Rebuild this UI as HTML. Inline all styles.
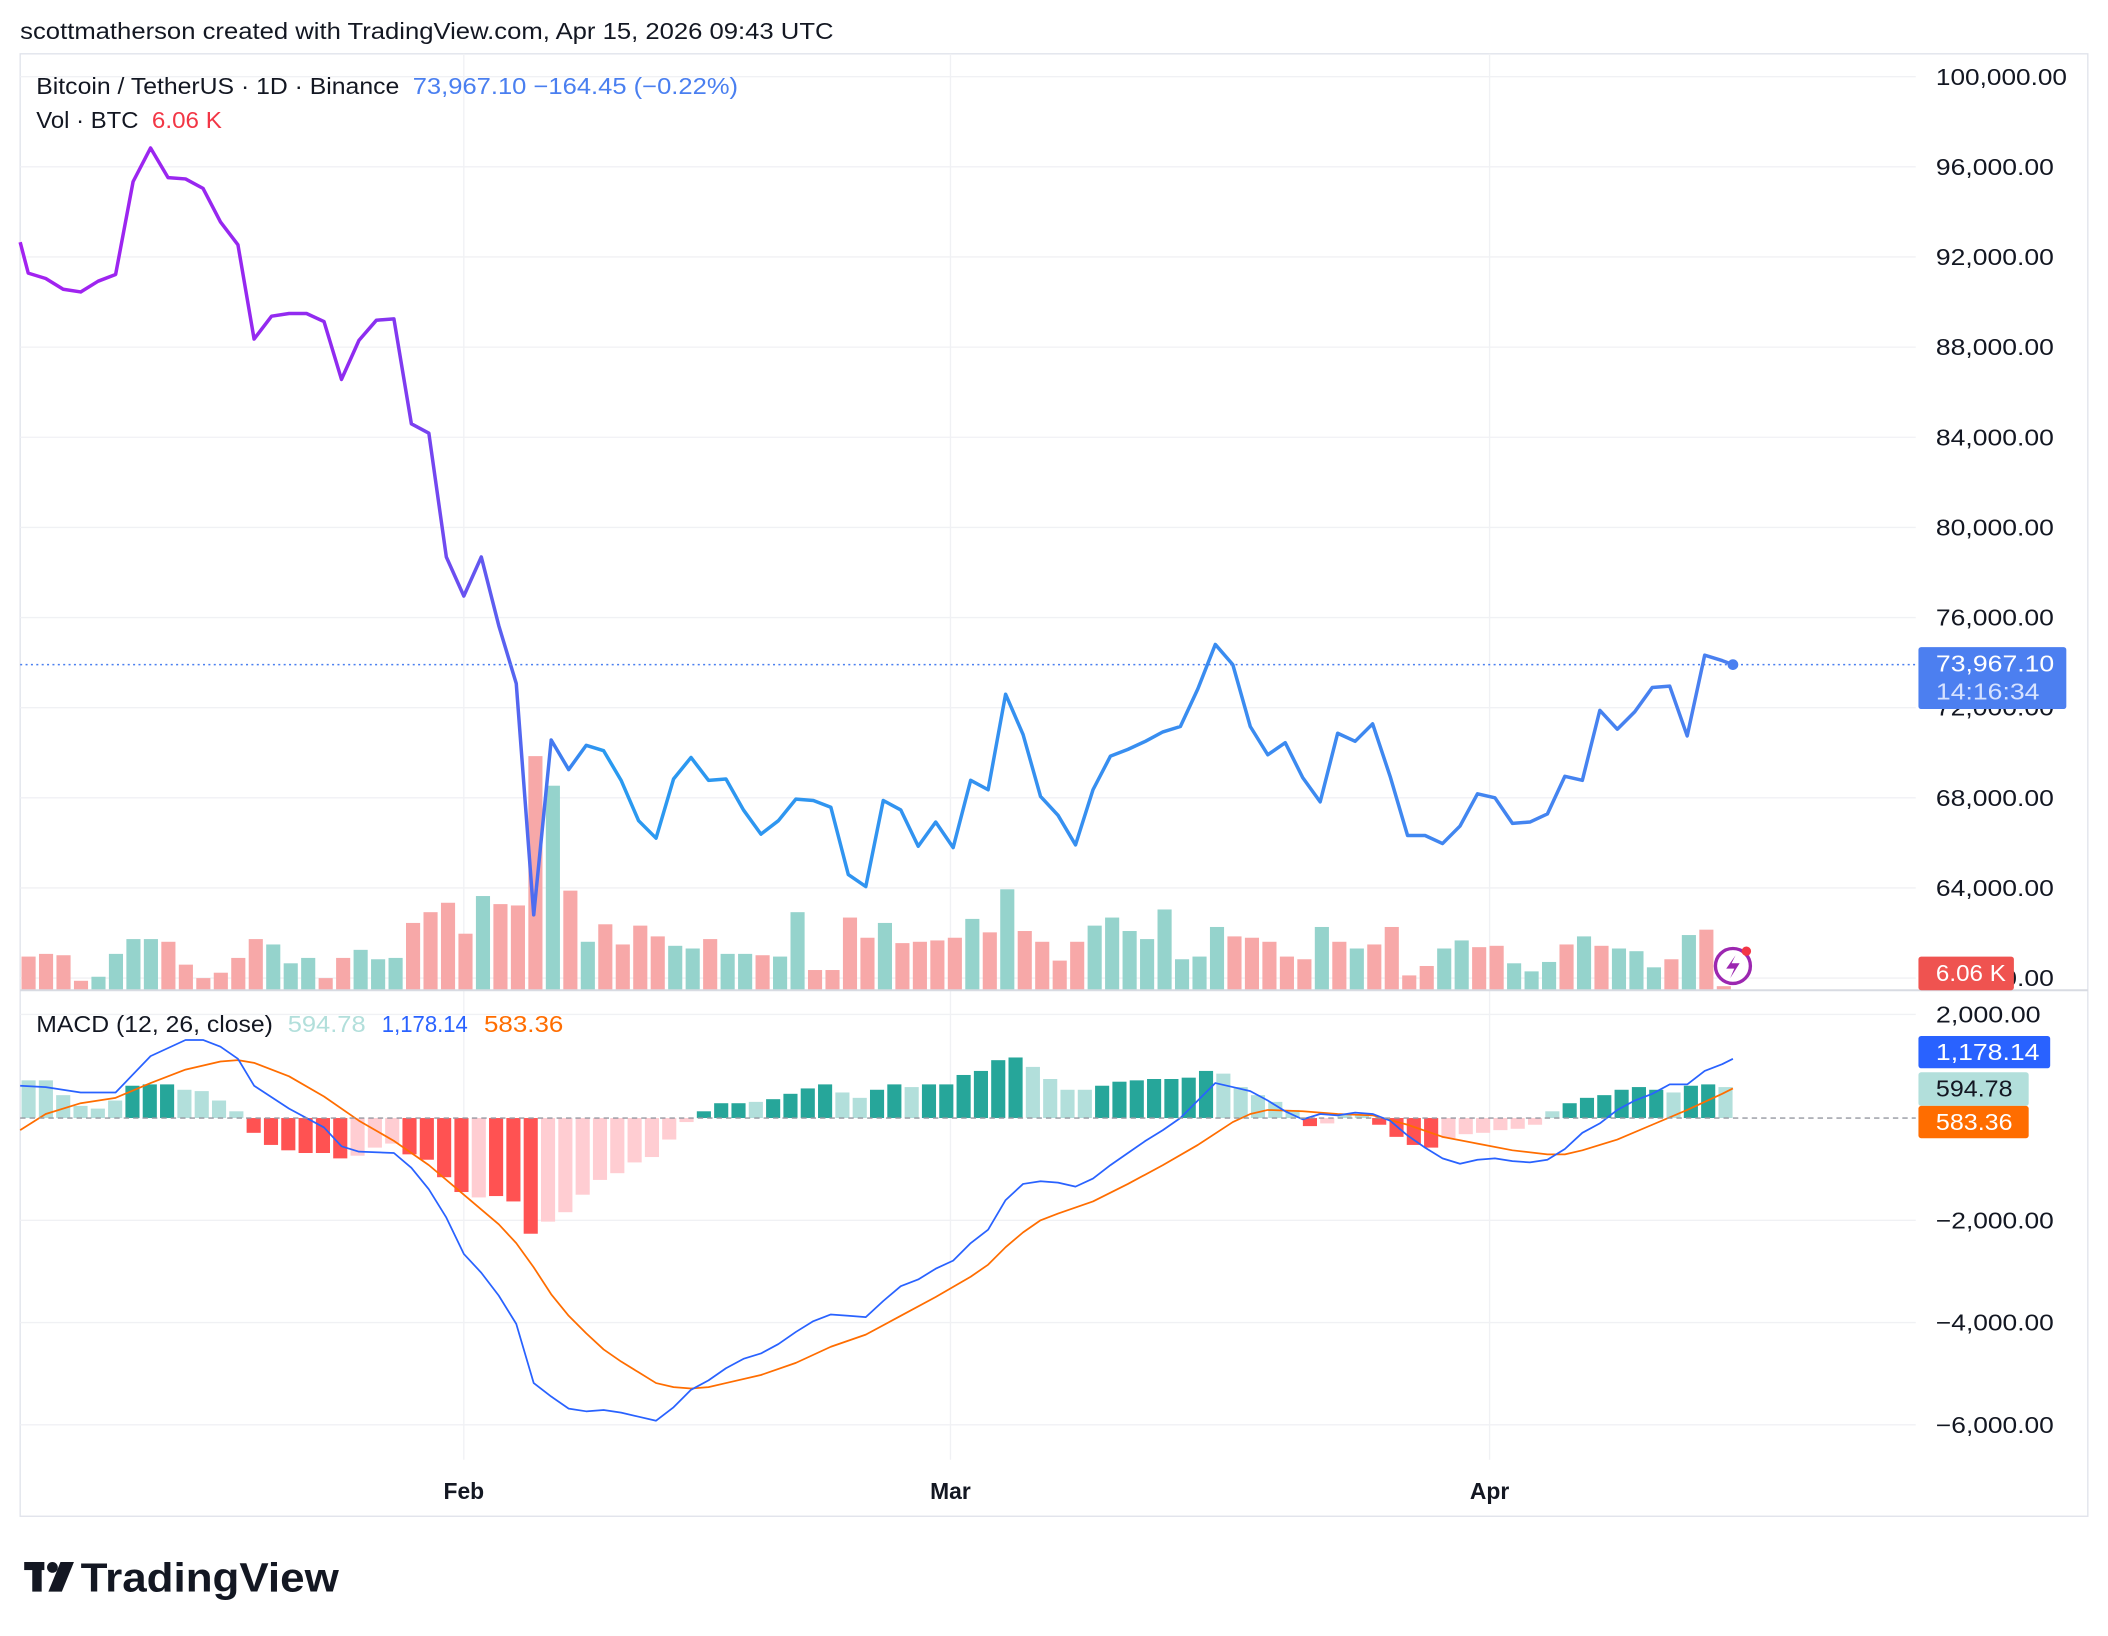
<!DOCTYPE html>
<html><head><meta charset="utf-8"><style>
html,body{margin:0;padding:0;background:#fff;}
svg{display:block;}
text{font-family:"Liberation Sans",sans-serif;}
</style></head><body>
<svg id="s" width="2108" height="1636" viewBox="0 0 1568 1216" preserveAspectRatio="none" xmlns="http://www.w3.org/2000/svg">
<defs>
<linearGradient id="pg" gradientUnits="userSpaceOnUse" x1="15" y1="0" x2="1289" y2="0">
<stop offset="0" stop-color="#a322f0"/>
<stop offset="0.2" stop-color="#8e2cf0"/>
<stop offset="0.3" stop-color="#4e6cf0"/>
<stop offset="0.34" stop-color="#2a9af0"/>
<stop offset="0.7" stop-color="#3a8cf0"/>
<stop offset="1" stop-color="#4a7ff0"/>
</linearGradient>
</defs>
<rect width="1568" height="1216" fill="#fff"/>
<text x="15" y="29" font-size="17" fill="#131722" textLength="605" lengthAdjust="spacingAndGlyphs">scottmatherson created with TradingView.com, Apr 15, 2026 09:43 UTC</text>
<rect x="15" y="40" width="1538" height="1087" fill="none" stroke="#e0e3eb" stroke-width="1"/>
<g id="grid" stroke="#f0f1f4" stroke-width="1"></g>
<g id="vol"></g>
<g id="hist"></g>
<g id="lines"></g>
<line x1="15" y1="736" x2="1553" y2="736" stroke="#d8dbe2" stroke-width="1.5"/>
<line x1="15" y1="831" x2="1425" y2="831" stroke="#9598a1" stroke-width="1" stroke-dasharray="4,3"/>
<line x1="15" y1="494" x2="1425" y2="494" stroke="#4a7ff0" stroke-width="1.2" stroke-dasharray="1.5,2.5"/>
<circle cx="1289" cy="494" r="4" fill="#4a7ff0"/>
<g id="axis" font-size="17" fill="#131722"></g>
<text x="27" y="70" font-size="17" fill="#131722" textLength="270" lengthAdjust="spacingAndGlyphs">Bitcoin / TetherUS · 1D · Binance</text>
<text x="307" y="70" font-size="17" fill="#4a7ff0" textLength="242" lengthAdjust="spacingAndGlyphs">73,967.10  −164.45 (−0.22%)</text>
<text x="27" y="95" font-size="17" fill="#131722" textLength="76" lengthAdjust="spacingAndGlyphs">Vol · BTC</text>
<text x="113" y="95" font-size="17" fill="#f23645" textLength="52" lengthAdjust="spacingAndGlyphs">6.06 K</text>
<text x="27" y="767" font-size="17" fill="#131722" textLength="176" lengthAdjust="spacingAndGlyphs">MACD (12, 26, close)</text>
<text x="214" y="767" font-size="17" fill="#b2dfdb" textLength="58" lengthAdjust="spacingAndGlyphs">594.78</text>
<text x="284" y="767" font-size="17" fill="#2962ff" textLength="64" lengthAdjust="spacingAndGlyphs">1,178.14</text>
<text x="360" y="767" font-size="17" fill="#ff6d00" textLength="59" lengthAdjust="spacingAndGlyphs">583.36</text>
<rect x="1427" y="481" width="110" height="46" rx="2" fill="#4c7ff0"/>
<text x="1440" y="499" font-size="17" fill="#fff" textLength="88" lengthAdjust="spacingAndGlyphs">73,967.10</text>
<text x="1440" y="520" font-size="17" fill="#d6e2ff" textLength="77" lengthAdjust="spacingAndGlyphs">14:16:34</text>
<rect x="1427" y="711" width="71" height="25" rx="2" fill="#ef5350"/>
<text x="1440" y="729" font-size="17" fill="#fff" textLength="52" lengthAdjust="spacingAndGlyphs">6.06 K</text>
<rect x="1427" y="770" width="98" height="24" rx="2" fill="#2962ff"/>
<text x="1440" y="788" font-size="17" fill="#fff" textLength="77" lengthAdjust="spacingAndGlyphs">1,178.14</text>
<rect x="1427" y="797" width="82" height="25" rx="2" fill="#b2dfdb"/>
<text x="1440" y="815" font-size="17" fill="#131722" textLength="57" lengthAdjust="spacingAndGlyphs">594.78</text>
<rect x="1427" y="822" width="82" height="24" rx="2" fill="#ff6d00"/>
<text x="1440" y="840" font-size="17" fill="#fff" textLength="57" lengthAdjust="spacingAndGlyphs">583.36</text>
<text x="345" y="1114" font-size="17" font-weight="bold" fill="#131722" text-anchor="middle">Feb</text>
<text x="707" y="1114" font-size="17" font-weight="bold" fill="#131722" text-anchor="middle">Mar</text>
<text x="1108" y="1114" font-size="17" font-weight="bold" fill="#131722" text-anchor="middle">Apr</text>
<circle cx="1289" cy="718" r="13" fill="#fff" stroke="#9c27b0" stroke-width="2.5"/>
<path d="M1291 710 L1284 720 L1290 720 L1287 727 L1294 716 L1288 716 Z" fill="#9c27b0"/>
<circle cx="1299" cy="707" r="3.5" fill="#f23645"/>
<g fill="#131722">
<rect x="18" y="1161" width="15" height="6"/>
<rect x="24" y="1161" width="7" height="22"/>
<circle cx="39" cy="1165" r="4"/>
<path d="M45 1161 L55 1161 L46 1183 L36 1183 Z"/>
</g>
<text x="60" y="1183" font-size="30" font-weight="bold" fill="#131722" textLength="192" lengthAdjust="spacingAndGlyphs">TradingView</text>
</svg>
<script>
var NS="http://www.w3.org/2000/svg";
function el(p,t,a){var e=document.createElementNS(NS,t);for(var k in a)e.setAttribute(k,a[k]);document.getElementById(p).appendChild(e);return e;}
[57,124,191,258,325,392,459,526,593,660,727,754,907,983,1059].forEach(function(y){el("grid","line",{x1:15,x2:1425,y1:y,y2:y});});
[345,707,1108].forEach(function(x){el("grid","line",{x1:x,x2:x,y1:40,y2:1085});});
var pl=[["100,000.00",57],["96,000.00",124],["92,000.00",191],["88,000.00",258],["84,000.00",325],["80,000.00",392],["76,000.00",459],["72,000.00",526],["68,000.00",593],["64,000.00",660],["60,000.00",727],["2,000.00",754],["−2,000.00",907],["−4,000.00",983],["−6,000.00",1059]];
pl.forEach(function(p){var t=el("axis","text",{x:1440,y:p[1]+6,textLength:(p[0].length*9.8-0.5).toFixed(1),lengthAdjust:"spacingAndGlyphs"});t.textContent=p[0];});
var vol="r711 r709 r710 r729 g726 g709 g698 g698 r700 r717 r727 r723 r712 r698 g702 g716 g712 r727 r712 g706 g713 g712 r686 r678 r671 r694 g666 r672 r673 r562 g584 r662 g700 r687 r702 r688 r696 g703 g705 r698 g709 g709 r710 g711 g678 r721 r721 r682 r697 g686 r701 r700 r699 r697 g683 r693 g661 r692 r700 r714 r700 g688 g682 g692 g698 g676 g713 g711 g689 r696 r697 r700 r711 r713 g689 r700 g705 r702 r689 r725 r718 g705 g699 r704 r703 g716 g722 g715 r702 g696 r703 g705 g707 g719 r713 g695 r691 r733".split(" ");
vol.forEach(function(v,i){var x=21+13*i;var y=+v.slice(1);el("vol","rect",{x:x-5,y:y,width:10.5,height:736-y,fill:v[0]=="r"?"#f7a8a8":"#95d3cc"});});
var h="L803 L803 L814 L822 L824 L818 T807 T806 T806 L810 L811 L818 L826 R842 R851 R855 R857 R857 R861 P859 P853 P850 R858 R862 R875 R886 P890 R889 R893 R917 P908 P901 P888 P877 P872 P864 P860 P847 P834 T826 T820 T820 L819 T817 T813 T809 T806 L812 L816 T810 T806 L808 T806 T806 T799 T796 T788 T786 L793 L802 L810 L810 T807 T804 T803 T802 T802 T801 T796 L798 L808 L814 L819 L825 R837 P835 L828 L829 R836 R845 R851 R853 P846 P843 P842 P840 P839 P836 L826 T820 T816 T814 T810 T808 T810 L812 T807 T806 L808".split(" ");
var col={L:"#b2dfdb",T:"#26a69a",R:"#ff5252",P:"#ffcdd2"};
h.forEach(function(v,i){var x=21+12.88*i;var y=+v.slice(1);var y0=Math.min(y,831),y1=Math.max(y,831);el("hist","rect",{x:x-5,y:y0,width:10.5,height:Math.max(1,y1-y0),fill:col[v[0]]});});
var pr=[[15,180],[21,203],[34,207],[47,215],[60,217],[73,209],[86,204],[99,135],[112,110],[125,132],[138,133],[151,140],[164,165],[177,182],[189,252],[202,235],[215,233],[228,233],[241,239],[254,282],[267,253],[280,238],[293,237],[306,315],[319,322],[332,414],[345,443],[358,414],[371,465],[384,508],[397,680],[410,550],[423,572],[436,554],[449,558],[462,580],[475,610],[488,623],[501,579],[514,563],[527,580],[540,579],[553,602],[566,620],[579,610],[592,594],[605,595],[618,600],[631,650],[644,659],[657,595],[670,602],[683,629],[696,611],[709,630],[722,580],[735,587],[748,516],[761,546],[774,592],[787,606],[800,628],[813,587],[826,562],[839,557],[852,551],[865,544],[878,540],[891,512],[904,479],[917,494],[930,540],[943,561],[956,552],[969,578],[982,596],[995,545],[1008,551],[1021,538],[1034,577],[1047,621],[1060,621],[1073,627],[1086,614],[1099,590],[1112,593],[1125,612],[1138,611],[1151,605],[1164,577],[1177,580],[1190,528],[1203,542],[1216,529],[1229,511],[1242,510],[1255,547],[1268,487],[1281,491],[1289,494]];
function pts(a){return a.map(function(p){return p[0]+","+p[1];}).join(" ");}
var macd=[[15,807],[34,808],[60,812],[86,812],[112,785],[138,773],[151,773],[164,778],[177,787],[189,807],[215,824],[241,838],[254,852],[267,856],[293,857],[306,868],[319,884],[332,905],[345,932],[358,946],[371,963],[384,984],[397,1028],[410,1038],[423,1047],[436,1049],[449,1048],[462,1050],[475,1053],[488,1056],[501,1046],[514,1033],[527,1026],[540,1017],[553,1010],[566,1006],[579,999],[592,990],[605,982],[618,977],[631,978],[644,979],[657,967],[670,956],[683,951],[696,943],[709,937],[722,924],[735,914],[748,892],[761,880],[774,878],[787,879],[800,882],[813,876],[826,866],[839,857],[852,848],[865,840],[878,831],[891,818],[904,805],[917,808],[930,811],[943,818],[956,826],[969,832],[982,828],[995,829],[1008,827],[1021,828],[1034,833],[1047,844],[1060,853],[1073,861],[1086,865],[1099,862],[1112,861],[1125,863],[1138,864],[1151,862],[1164,854],[1177,842],[1190,835],[1203,825],[1216,818],[1229,813],[1242,806],[1255,806],[1268,796],[1281,791],[1289,787]];
var sig=[[15,840],[34,828],[60,820],[86,816],[112,805],[138,795],[164,789],[177,788],[189,790],[215,800],[241,815],[267,833],[293,848],[319,866],[345,888],[371,910],[384,924],[397,942],[410,962],[423,978],[436,991],[449,1003],[462,1012],[475,1020],[488,1028],[501,1031],[514,1032],[527,1031],[540,1028],[566,1022],[592,1013],[618,1001],[644,992],[670,978],[696,964],[722,949],[735,940],[748,927],[761,916],[774,907],[787,902],[813,893],[839,880],[865,866],[891,851],[917,834],[930,828],[943,825],[969,826],[995,828],[1021,829],[1047,836],[1073,845],[1099,850],[1125,855],[1151,858],[1164,858],[1177,855],[1203,847],[1229,836],[1255,825],[1281,813],[1289,809]];
el("lines","polyline",{points:pts(sig),fill:"none",stroke:"#ff6d00","stroke-width":1.3,"stroke-linejoin":"round"});
el("lines","polyline",{points:pts(macd),fill:"none",stroke:"#2962ff","stroke-width":1.3,"stroke-linejoin":"round"});
el("lines","polyline",{points:pts(pr),fill:"none",stroke:"url(#pg)","stroke-width":2.6,"stroke-linejoin":"round"});
</script>
</body></html>
